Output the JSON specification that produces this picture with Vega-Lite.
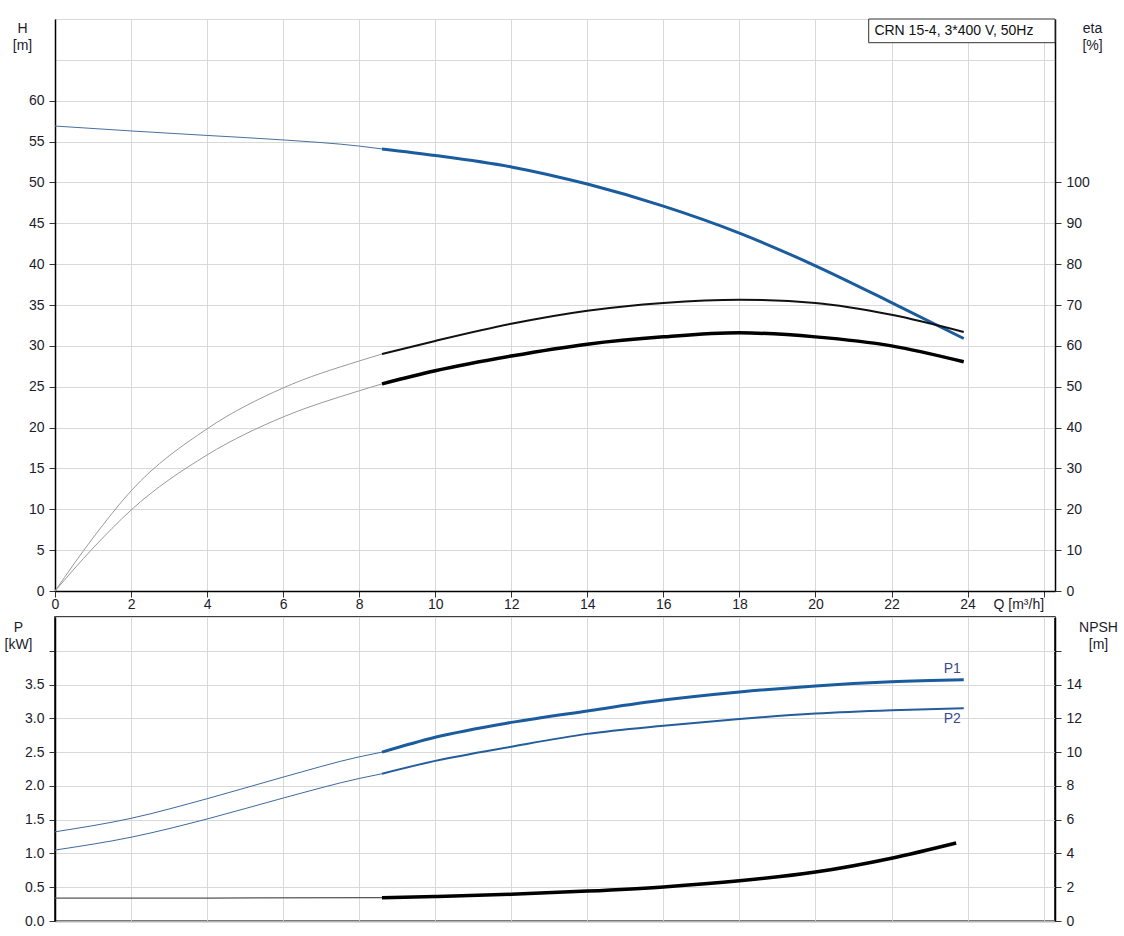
{
  "$schema": "https://vega.github.io/schema/vega-lite/v6.json",
  "padding": {"left": 3, "top": 18, "right": 0, "bottom": 0},
  "background": "white",
  "config": {
    "font": "Liberation Sans",
    "concat": {"spacing": 5},
    "axis": {
      "labelFontSize": 14, "titleFontSize": 14, "labelColor": "#1c1c2c", "titleColor": "#1c1c2c",
      "titleFontWeight": "normal", "gridColor": "#d9d9d9", "gridWidth": 1,
      "domainColor": "#000", "domainWidth": 1.5, "tickColor": "#333", "tickSize": 6, "labelPadding": 5
    }
  },
  "datasets": {
    "H": [
      {"Q": 0, "v": 56.9, "c": "H0"}, {"Q": 2, "v": 56.3, "c": "H0"}, {"Q": 4, "v": 55.75, "c": "H0"}, {"Q": 6, "v": 55.2, "c": "H0"}, {"Q": 8, "v": 54.45, "c": "H0"}, {"Q": 8.6, "v": 54.1, "c": "H0"},
      {"Q": 8.6, "v": 54.1, "c": "H1"}, {"Q": 10, "v": 53.3, "c": "H1"}, {"Q": 12, "v": 51.9, "c": "H1"}, {"Q": 14, "v": 49.8, "c": "H1"}, {"Q": 16, "v": 47.1, "c": "H1"}, {"Q": 18, "v": 43.8, "c": "H1"}, {"Q": 20, "v": 39.8, "c": "H1"}, {"Q": 22, "v": 35.3, "c": "H1"}, {"Q": 23.9, "v": 30.9, "c": "H1"}
    ],
    "E": [
      {"Q": 0, "v": 0, "c": "E10"}, {"Q": 1, "v": 13, "c": "E10"}, {"Q": 2, "v": 24.5, "c": "E10"}, {"Q": 4, "v": 39.7, "c": "E10"}, {"Q": 6, "v": 49.7, "c": "E10"}, {"Q": 8, "v": 56.3, "c": "E10"}, {"Q": 8.6, "v": 58.0, "c": "E10"},
      {"Q": 8.6, "v": 58.0, "c": "E11"}, {"Q": 10, "v": 61.2, "c": "E11"}, {"Q": 12, "v": 65.4, "c": "E11"}, {"Q": 14, "v": 68.6, "c": "E11"}, {"Q": 16, "v": 70.5, "c": "E11"}, {"Q": 18, "v": 71.3, "c": "E11"}, {"Q": 20, "v": 70.5, "c": "E11"}, {"Q": 22, "v": 67.6, "c": "E11"}, {"Q": 23.9, "v": 63.4, "c": "E11"},
      {"Q": 0, "v": 0, "c": "E20"}, {"Q": 1, "v": 10.5, "c": "E20"}, {"Q": 2, "v": 19.8, "c": "E20"}, {"Q": 4, "v": 33.3, "c": "E20"}, {"Q": 6, "v": 42.6, "c": "E20"}, {"Q": 8, "v": 49.0, "c": "E20"}, {"Q": 8.6, "v": 50.7, "c": "E20"},
      {"Q": 8.6, "v": 50.7, "c": "E21"}, {"Q": 10, "v": 53.9, "c": "E21"}, {"Q": 12, "v": 57.5, "c": "E21"}, {"Q": 14, "v": 60.4, "c": "E21"}, {"Q": 16, "v": 62.2, "c": "E21"}, {"Q": 18, "v": 63.2, "c": "E21"}, {"Q": 20, "v": 62.2, "c": "E21"}, {"Q": 22, "v": 60.0, "c": "E21"}, {"Q": 23.9, "v": 56.1, "c": "E21"}
    ],
    "P": [
      {"Q": 0, "v": 1.32, "c": "P10"}, {"Q": 2, "v": 1.52, "c": "P10"}, {"Q": 4, "v": 1.81, "c": "P10"}, {"Q": 6, "v": 2.13, "c": "P10"}, {"Q": 8, "v": 2.43, "c": "P10"}, {"Q": 8.6, "v": 2.5, "c": "P10"},
      {"Q": 8.6, "v": 2.5, "c": "P11"}, {"Q": 10, "v": 2.72, "c": "P11"}, {"Q": 12, "v": 2.94, "c": "P11"}, {"Q": 14, "v": 3.11, "c": "P11"}, {"Q": 16, "v": 3.27, "c": "P11"}, {"Q": 18, "v": 3.39, "c": "P11"}, {"Q": 20, "v": 3.48, "c": "P11"}, {"Q": 22, "v": 3.54, "c": "P11"}, {"Q": 23.9, "v": 3.57, "c": "P11"},
      {"Q": 0, "v": 1.05, "c": "P20"}, {"Q": 2, "v": 1.24, "c": "P20"}, {"Q": 4, "v": 1.51, "c": "P20"}, {"Q": 6, "v": 1.82, "c": "P20"}, {"Q": 8, "v": 2.11, "c": "P20"}, {"Q": 8.6, "v": 2.18, "c": "P20"},
      {"Q": 8.6, "v": 2.18, "c": "P21"}, {"Q": 10, "v": 2.37, "c": "P21"}, {"Q": 12, "v": 2.58, "c": "P21"}, {"Q": 14, "v": 2.77, "c": "P21"}, {"Q": 16, "v": 2.89, "c": "P21"}, {"Q": 18, "v": 2.99, "c": "P21"}, {"Q": 20, "v": 3.07, "c": "P21"}, {"Q": 22, "v": 3.12, "c": "P21"}, {"Q": 23.9, "v": 3.15, "c": "P21"}
    ],
    "N": [
      {"Q": 0, "v": 1.36, "c": "N0"}, {"Q": 4, "v": 1.36, "c": "N0"}, {"Q": 8.6, "v": 1.38, "c": "N0"},
      {"Q": 8.6, "v": 1.38, "c": "N1"}, {"Q": 10, "v": 1.45, "c": "N1"}, {"Q": 12, "v": 1.58, "c": "N1"}, {"Q": 14, "v": 1.77, "c": "N1"}, {"Q": 16, "v": 2.02, "c": "N1"}, {"Q": 18, "v": 2.38, "c": "N1"}, {"Q": 20, "v": 2.9, "c": "N1"}, {"Q": 22, "v": 3.72, "c": "N1"}, {"Q": 23.7, "v": 4.62, "c": "N1"}
    ],
    "box": [{"x1": 21.4, "x2": 26.3, "y1": 67.1, "y2": 70, "tx": 21.55, "ty": 68.55, "t": "CRN 15-4, 3*400 V, 50Hz"}],
    "plab": [{"Q": 23.6, "v": 3.73, "t": "P1"}, {"Q": 23.6, "v": 2.99, "t": "P2"}]
  },
  "vconcat": [
    {
      "width": 1000, "height": 572,
      "view": {"stroke": null},
      "resolve": {"scale": {"y": "independent"}},
      "layer": [
        {
          "layer": [
            {
              "data": {"name": "H"},
              "mark": {"type": "line", "interpolate": "monotone"},
              "encoding": {
                "x": {"field": "Q", "type": "quantitative", "scale": {"domain": [0, 26.3], "nice": false, "zero": false},
                  "axis": {"values": [0, 2, 4, 6, 8, 10, 12, 14, 16, 18, 20, 22, 24, 26], "tickCount": 30, "grid": true, "title": null, "labelPadding": 0,
                    "labelExpr": "datum.value == 26 ? 'Q [m³/h]' : format(datum.value, 'd')",
                    "labelAlign": {"condition": {"test": "datum.value == 26", "value": "right"}, "value": "center"},
                    "labelOverlap": false, "labelFlush": false, "labelBound": false}},
                "y": {"field": "v", "type": "quantitative", "scale": {"domain": [0, 70], "nice": false},
                  "axis": {"values": [0, 5, 10, 15, 20, 25, 30, 35, 40, 45, 50, 55, 60, 65, 70], "tickCount": 30, "grid": true, "labelOverlap": false,
                    "labelExpr": "datum.value > 60 ? '' : format(datum.value, 'd')",
                    "labelFontSize": {"condition": {"test": "datum.value > 62", "value": 0}, "value": 14},
                    "tickOpacity": {"condition": {"test": "datum.value > 62", "value": 0}, "value": 1},
                    "title": ["H", "[m]"], "titleAngle": 0, "titleX": -33, "titleY": 2, "titleAlign": "center", "titleBaseline": "top", "titleLineHeight": 17}},
                "color": {"field": "c", "type": "nominal", "legend": null,
                  "scale": {"domain": ["H0", "H1", "E10", "E11", "E20", "E21", "P10", "P11", "P20", "P21", "N0", "N1"],
                    "range": ["#4a6f9c", "#1b5c9e", "#9a9a9a", "#111111", "#9a9a9a", "#000000", "#3d6a9e", "#1b5c9e", "#3d6a9e", "#245c9c", "#555555", "#000000"]}},
                "strokeWidth": {"field": "c", "type": "nominal", "legend": null,
                  "scale": {"type": "ordinal", "domain": ["H0", "H1", "E10", "E11", "E20", "E21", "P10", "P11", "P20", "P21", "N0", "N1"],
                    "range": [1, 3, 1, 2, 1, 3.5, 1, 3, 1, 2, 1.2, 3.5]}}
              }
            },
            {
              "data": {"name": "box"},
              "mark": {"type": "rect", "fill": "white", "stroke": "#333", "strokeWidth": 1},
              "encoding": {
                "x": {"field": "x1", "type": "quantitative"}, "x2": {"field": "x2"},
                "y": {"field": "y1", "type": "quantitative"}, "y2": {"field": "y2"}
              }
            },
            {
              "data": {"name": "box"},
              "mark": {"type": "text", "align": "left", "baseline": "middle", "fontSize": 14, "color": "#111"},
              "encoding": {
                "x": {"field": "tx", "type": "quantitative"},
                "y": {"field": "ty", "type": "quantitative"},
                "text": {"field": "t"}
              }
            }
          ]
        },
        {
          "data": {"name": "E"},
          "mark": {"type": "line", "interpolate": "monotone"},
          "encoding": {
            "x": {"field": "Q", "type": "quantitative"},
            "y": {"field": "v", "type": "quantitative", "scale": {"domain": [0, 140], "nice": false},
              "axis": {"orient": "right", "values": [0, 10, 20, 30, 40, 50, 60, 70, 80, 90, 100, 110, 120, 130, 140], "tickCount": 30, "grid": false, "labelOverlap": false,
                "labelExpr": "datum.value > 100 ? '' : format(datum.value, 'd')",
                "labelFontSize": {"condition": {"test": "datum.value > 105", "value": 0}, "value": 14},
                "tickOpacity": {"condition": {"test": "datum.value > 105", "value": 0}, "value": 1},
                "title": ["eta", "[%]"], "titleAngle": 0, "titleX": 37, "titleY": 2, "titleAlign": "center", "titleBaseline": "top", "titleLineHeight": 17}},
            "color": {"field": "c", "type": "nominal", "legend": null,
              "scale": {"domain": ["H0", "H1", "E10", "E11", "E20", "E21", "P10", "P11", "P20", "P21", "N0", "N1"],
                "range": ["#4a6f9c", "#1b5c9e", "#9a9a9a", "#111111", "#9a9a9a", "#000000", "#3d6a9e", "#1b5c9e", "#3d6a9e", "#245c9c", "#555555", "#000000"]}},
            "strokeWidth": {"field": "c", "type": "nominal", "legend": null,
              "scale": {"type": "ordinal", "domain": ["H0", "H1", "E10", "E11", "E20", "E21", "P10", "P11", "P20", "P21", "N0", "N1"],
                "range": [1, 3, 1, 2, 1, 3.5, 1, 3, 1, 2, 1.2, 3.5]}}
          }
        }
      ]
    },
    {
      "width": 1000, "height": 304,
      "view": {"stroke": "#000", "strokeWidth": 1.5},
      "resolve": {"scale": {"y": "independent"}},
      "layer": [
        {
          "layer": [
            {
              "data": {"name": "P"},
              "mark": {"type": "line", "interpolate": "monotone"},
              "encoding": {
                "x": {"field": "Q", "type": "quantitative", "scale": {"domain": [0, 26.3], "nice": false, "zero": false},
                  "axis": {"values": [0, 2, 4, 6, 8, 10, 12, 14, 16, 18, 20, 22, 24, 26], "tickCount": 30, "grid": true, "labels": false, "ticks": false,
                    "title": null, "domainColor": "#b4b4b4", "domainWidth": 2}},
                "y": {"field": "v", "type": "quantitative", "scale": {"domain": [0, 4.5], "nice": false},
                  "axis": {"values": [0, 0.5, 1, 1.5, 2, 2.5, 3, 3.5, 4, 4.5], "tickCount": 30, "grid": true, "labelOverlap": false,
                    "labelExpr": "datum.value > 3.6 ? '' : format(datum.value, '.1f')",
                    "labelFontSize": {"condition": {"test": "datum.value > 4.2", "value": 0}, "value": 14},
                    "tickOpacity": {"condition": {"test": "datum.value > 4.2", "value": 0}, "value": 1},
                    "title": ["P", "[kW]"], "titleAngle": 0, "titleX": -37, "titleY": 3, "titleAlign": "center", "titleBaseline": "top", "titleLineHeight": 17}},
                "color": {"field": "c", "type": "nominal", "legend": null,
                  "scale": {"domain": ["H0", "H1", "E10", "E11", "E20", "E21", "P10", "P11", "P20", "P21", "N0", "N1"],
                    "range": ["#4a6f9c", "#1b5c9e", "#9a9a9a", "#111111", "#9a9a9a", "#000000", "#3d6a9e", "#1b5c9e", "#3d6a9e", "#245c9c", "#555555", "#000000"]}},
                "strokeWidth": {"field": "c", "type": "nominal", "legend": null,
                  "scale": {"type": "ordinal", "domain": ["H0", "H1", "E10", "E11", "E20", "E21", "P10", "P11", "P20", "P21", "N0", "N1"],
                    "range": [1, 3, 1, 2, 1, 3.5, 1, 3, 1, 2, 1.2, 3.5]}}
              }
            },
            {
              "data": {"name": "plab"},
              "mark": {"type": "text", "align": "center", "baseline": "middle", "fontSize": 14, "color": "#3b4a8c"},
              "encoding": {
                "x": {"field": "Q", "type": "quantitative"},
                "y": {"field": "v", "type": "quantitative"},
                "text": {"field": "t"}
              }
            }
          ]
        },
        {
          "data": {"name": "N"},
          "mark": {"type": "line", "interpolate": "monotone"},
          "encoding": {
            "x": {"field": "Q", "type": "quantitative"},
            "y": {"field": "v", "type": "quantitative", "scale": {"domain": [0, 18], "nice": false},
              "axis": {"orient": "right", "values": [0, 2, 4, 6, 8, 10, 12, 14, 16, 18], "tickCount": 30, "grid": false, "labelOverlap": false,
                "labelExpr": "datum.value > 14 ? '' : format(datum.value, 'd')",
                "labelFontSize": {"condition": {"test": "datum.value > 17", "value": 0}, "value": 14},
                "tickOpacity": {"condition": {"test": "datum.value > 17", "value": 0}, "value": 1},
                "title": ["NPSH", "[m]"], "titleAngle": 0, "titleX": 43, "titleY": 3, "titleAlign": "center", "titleBaseline": "top", "titleLineHeight": 17}},
            "color": {"field": "c", "type": "nominal", "legend": null,
              "scale": {"domain": ["H0", "H1", "E10", "E11", "E20", "E21", "P10", "P11", "P20", "P21", "N0", "N1"],
                "range": ["#4a6f9c", "#1b5c9e", "#9a9a9a", "#111111", "#9a9a9a", "#000000", "#3d6a9e", "#1b5c9e", "#3d6a9e", "#245c9c", "#555555", "#000000"]}},
            "strokeWidth": {"field": "c", "type": "nominal", "legend": null,
              "scale": {"type": "ordinal", "domain": ["H0", "H1", "E10", "E11", "E20", "E21", "P10", "P11", "P20", "P21", "N0", "N1"],
                "range": [1, 3, 1, 2, 1, 3.5, 1, 3, 1, 2, 1.2, 3.5]}}
          }
        }
      ]
    }
  ]
}
